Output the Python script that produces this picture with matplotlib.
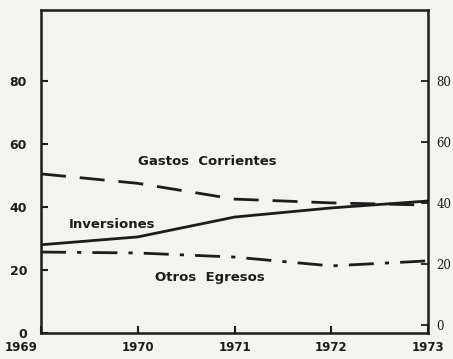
import matplotlib.pyplot as plt
import matplotlib.transforms as mtransforms

years = [1969, 1970, 1971, 1972, 1973]
gastos_corrientes = [50.5, 47.5, 42.5, 41.3, 40.6]
inversiones = [28.0, 30.5, 36.8, 39.7, 41.9]
otros_egresos = [25.7, 25.4, 24.1, 21.3, 22.9]

left_ticks = [0, 20, 40, 60, 80]
right_ticks = [0, 20, 40, 60, 80]

ink = '#1c1c1c'
paper = '#f3f3ef'

fig = plt.figure(figsize=(4.53, 3.59), dpi=100, facecolor=paper)
ax = fig.add_axes([0.0905, 0.0724, 0.8545, 0.8996], facecolor=paper)

ax.plot(years, gastos_corrientes, color=ink, lw=2, dashes=(9, 5))
ax.plot(years, inversiones, color=ink, lw=2)
ax.plot(years, otros_egresos, color=ink, lw=2, dashes=(9, 4, 1.5, 4))

ax.set_xlim(1969, 1973)
ax.set_ylim(0, 102.5)

for side in ax.spines.values():
    side.set_color(ink)
    side.set_linewidth(1.8)

ax.set_xticks(years)
ax.set_xticklabels([str(y) for y in years], fontsize=8.5, fontweight='bold',
                   color=ink)
ax.tick_params(axis='x', direction='in', length=5, width=1.5, pad=6,
               colors=ink)
# first year label sits left of the corner
shift = mtransforms.ScaledTranslation(-0.2, 0, fig.dpi_scale_trans)
first = ax.get_xticklabels()[0]
first.set_transform(first.get_transform() + shift)

ax.set_yticks(left_ticks)
ax.set_yticklabels([str(v) for v in left_ticks], fontsize=9,
                   fontweight='bold', color=ink)
ax.tick_params(axis='y', direction='in', length=5, width=1.5, pad=10,
               colors=ink)

# right-hand scale, set slightly off from the left one
ax2 = ax.twinx()
ax2.set_ylim(-2.6, 103.3)
ax2.set_yticks(right_ticks)
ax2.set_yticklabels([str(v) for v in right_ticks], fontsize=8.5,
                    family='DejaVu Serif', color='#333333')
ax2.tick_params(axis='y', direction='in', length=5, width=1.3, pad=6,
                colors=ink)
for side in ax2.spines.values():
    side.set_visible(False)

label_style = dict(fontsize=9.5, fontweight='bold', color=ink, ha='center',
                   va='center')
ax.text(1970.72, 54.5, 'Gastos  Corrientes', **label_style)
ax.text(1969.73, 34.5, 'Inversiones', **label_style)
ax.text(1970.74, 17.7, 'Otros  Egresos', **label_style)

fig.savefig('out.png', dpi=100, facecolor=paper)
